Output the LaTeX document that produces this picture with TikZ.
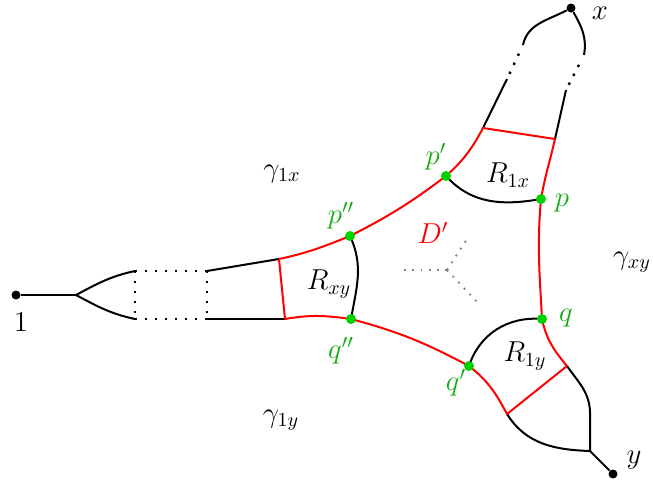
\documentclass[tikz,border=0pt]{standalone}
\usetikzlibrary{calc}
\definecolor{ptgreen}{RGB}{0,210,0}
\definecolor{lblgreen}{RGB}{20,170,20}
\begin{document}
\begin{tikzpicture}[x=0.5pt, y=0.5pt, font=\Large,
  edge/.style={black, line width=1pt},
  bdry/.style={red, line width=1pt},
  dotline/.style={black, line width=1.2pt, dash pattern=on 1.2pt off 3.8pt},
  graydot/.style={gray, line width=0.9pt, dash pattern=on 0.9pt off 3.2pt},
  vtx/.style={circle, fill=black, inner sep=0pt, minimum size=4.5pt},
  gpt/.style={circle, fill=ptgreen, inner sep=0pt, minimum size=5pt},
  glabel/.style={text=lblgreen}
]
\useasboundingbox (0,0) rectangle (653,-484);

% junctions
\coordinate (split) at (76,-295);
\coordinate (ul) at (135,-271);
\coordinate (ll) at (135,-319);
\coordinate (ur) at (207,-271);
\coordinate (lr) at (207,-319);
\coordinate (a) at (279,-259);
\coordinate (e) at (285,-319);
\coordinate (b) at (483,-128);
\coordinate (c) at (555,-139);
\coordinate (d) at (567,-366);
\coordinate (f) at (507,-414);
\coordinate (tl1) at (507,-79);
\coordinate (tl2) at (523,-45);
\coordinate (tr1) at (566,-90);
\coordinate (tr2) at (584,-55);
\coordinate (yv) at (590,-412);
\coordinate (yj) at (590,-451);
\coordinate (pdd) at (350,-236);
\coordinate (qdd) at (351,-319);
\coordinate (pd) at (446,-176);
\coordinate (p) at (541,-199);
\coordinate (q) at (542,-319);
\coordinate (qd) at (469,-366);
\coordinate (ctr) at (447,-270);

\node[vtx] (one) at (16,-295) {};
\node[vtx] (x) at (571,-8) {};
\node[vtx] (y) at (613,-474) {};

% left tree
\draw[edge] (one) -- (split);
\draw[edge] (split) to[out=28,in=-168] (ul);
\draw[edge] (split) to[out=-28,in=168] (ll);
\draw[dotline] (ul) -- (ur) (ll) -- (lr) (ul) -- (ll) (ur) -- (lr);
\draw[edge] (ur) -- (a);
\draw[edge] (lr) -- (e);

% top tree
\draw[edge] (b) -- (tl1);
\draw[dotline] ($(tl1)!0.15!(tl2)$) -- ($(tl1)!0.85!(tl2)$);
\draw[edge] (tl2) to[out=78,in=-152] (x);
\draw[edge] (c) -- (tr1);
\draw[dotline] ($(tr1)!0.15!(tr2)$) -- ($(tr1)!0.85!(tr2)$);
\draw[edge] (tr2) to[out=80,in=-60] (x);

% bottom tree
\draw[edge] (d) to[out=-55,in=92] (yv) -- (yj);
\draw[edge] (f) to[out=-58,in=178] (yj);
\draw[edge] (yj) -- (y);

% red boundary of D'
\draw[bdry] (a) -- (e);
\draw[bdry] (b) -- (c);
\draw[bdry] (d) -- (f);
\draw[bdry] (a) to[out=12,in=-158] (pdd) to[out=27,in=-143] (pd) to[out=42,in=-118] (b);
\draw[bdry] (c) to[out=-103,in=80] (p) to[out=-95,in=93] (q) to[out=-78,in=130] (d);
\draw[bdry] (e) to[out=10,in=172] (qdd) to[out=-15,in=152] (qd) to[out=-38,in=118] (f);

% cross curves
\draw[edge] (pdd) to[out=-65,in=80] (qdd);
\draw[edge] (pd) to[out=-48,in=-170] (p);
\draw[edge] (qd) to[out=72,in=175] (q);

% gray tripod
\draw[graydot] (ctr) -- (398,-270);
\draw[graydot] (ctr) -- (467,-239);
\draw[graydot] (ctr) -- (479,-304);

\foreach \pt in {pdd,qdd,pd,p,q,qd} \node[gpt] at (\pt) {};

% labels
\node at (21,-322) {$1$};
\node[inner sep=1pt] at (600,-13) {$x$};
\node at (634,-460) {$y$};
\node[glabel] at (436,-157) {$p'$};
\node[glabel] at (341,-216) {$p''$};
\node[glabel] at (341,-351) {$q''$};
\node[glabel] at (456,-383) {$q'$};
\node[glabel] at (562,-203) {$p$};
\node[glabel] at (566,-318) {$q$};
\node[text=red] at (433,-233) {$D'$};
\node at (329,-284) {$R_{xy}$};
\node at (508,-175) {$R_{1x}$};
\node at (525,-356) {$R_{1y}$};
\node at (282,-174) {$\gamma_{1x}$};
\node at (281,-420) {$\gamma_{1y}$};
\node at (632,-262) {$\gamma_{xy}$};
\end{tikzpicture}
\end{document}
